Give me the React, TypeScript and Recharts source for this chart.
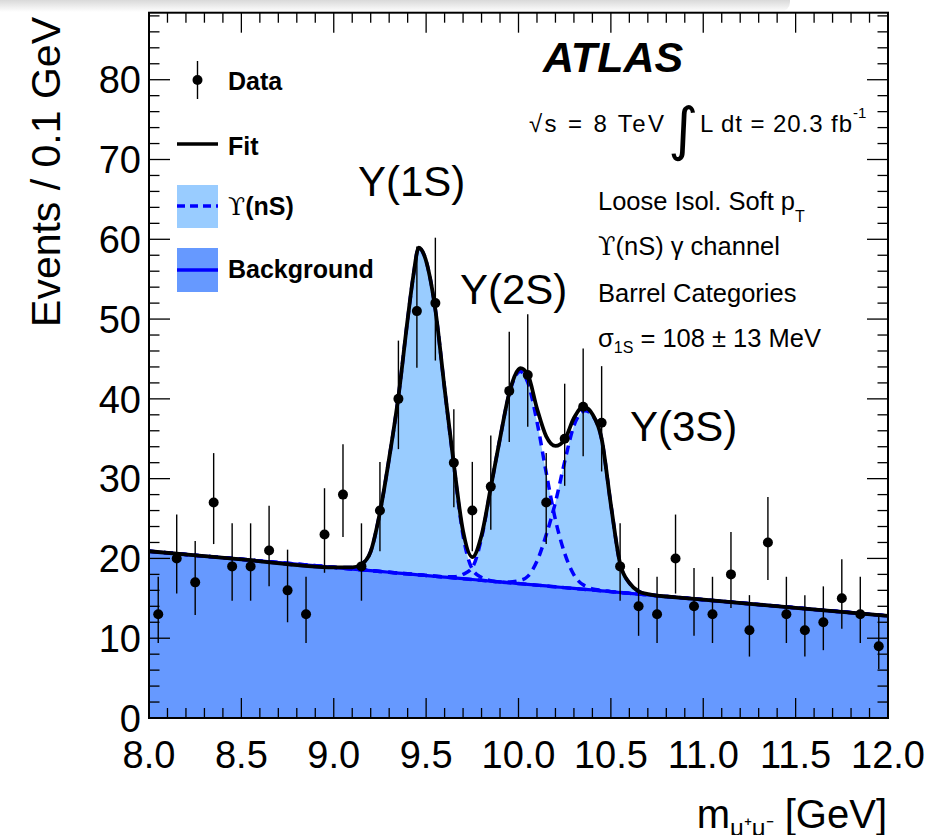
import React from "react";
import { ComposedChart, Area, Line, Scatter, ErrorBar, XAxis, YAxis } from "recharts";

// dimuon mass bins (GeV, bin centres) and event counts
const massBins = [
  8.05, 8.15, 8.25, 8.35, 8.45, 8.55, 8.65, 8.75, 8.85, 8.95,
  9.05, 9.15, 9.25, 9.35, 9.45, 9.55, 9.65, 9.75, 9.85, 9.95,
  10.05, 10.15, 10.25, 10.35, 10.45, 10.55, 10.65, 10.75, 10.85, 10.95,
  11.05, 11.15, 11.25, 11.35, 11.45, 11.55, 11.65, 11.75, 11.85, 11.95,
];
const events = [
  13, 20, 17, 27, 19, 19, 21, 16, 13, 23,
  28, 19, 26, 40, 51, 52, 32, 26, 29, 41,
  43, 27, 35, 39, 37, 19, 14, 13, 20, 14,
  13, 18, 11, 22, 13, 11, 12, 15, 13, 9,
];
const errDown = [
  3.6, 4.4, 4.1, 5.2, 4.3, 4.3, 4.5, 4.0, 3.6, 4.8,
  5.3, 4.3, 5.1, 6.3, 7.1, 7.2, 5.6, 5.1, 5.4, 6.4,
  6.5, 5.2, 5.9, 6.2, 6.1, 4.3, 3.7, 3.6, 4.4, 3.7,
  3.6, 4.2, 3.3, 4.7, 3.6, 3.3, 3.5, 3.8, 3.6, 2.9,
];
const errUp = [
  4.7, 5.5, 5.2, 6.2, 5.4, 5.4, 5.6, 5.1, 4.7, 5.8,
  6.3, 5.4, 6.1, 7.3, 8.1, 8.2, 6.7, 6.1, 6.4, 7.4,
  7.6, 6.2, 6.9, 7.3, 7.1, 5.4, 4.8, 4.7, 5.5, 4.8,
  4.7, 5.3, 4.4, 5.7, 4.7, 4.4, 4.5, 4.9, 4.7, 4.1,
];

// fit curves
const curveMass = [
  8.0, 8.5, 9.0, 9.1, 9.15, 9.2, 9.25, 9.3, 9.35, 9.4,
  9.43, 9.46, 9.49, 9.52, 9.55, 9.6, 9.65, 9.7, 9.75, 9.8,
  9.85, 9.9, 9.95, 10.0, 10.01, 10.05, 10.1, 10.15, 10.2, 10.25,
  10.3, 10.35, 10.36, 10.4, 10.45, 10.5, 10.55, 10.6, 10.65, 10.7,
  10.75, 10.8, 11.0, 11.5, 12.0,
];
const background = [
  20.9, 19.89, 18.88, 18.67, 18.57, 18.47, 18.37, 18.27, 18.17, 18.07,
  18.0, 17.94, 17.88, 17.82, 17.76, 17.66, 17.56, 17.46, 17.36, 17.26,
  17.15, 17.05, 16.95, 16.85, 16.83, 16.75, 16.65, 16.55, 16.44, 16.34,
  16.24, 16.14, 16.12, 16.04, 15.94, 15.84, 15.73, 15.63, 15.53, 15.43,
  15.33, 15.23, 14.83, 13.81, 12.8,
];
const upsilon1S = [
  20.9, 19.89, 18.88, 18.87, 19.27, 20.87, 25.77, 32.57, 40.27, 49.97,
  55.3, 58.94, 57.98, 55.32, 51.16, 41.26, 31.66, 22.86, 18.66, 17.61,
  17.2, 17.05, 16.95, 16.85, 16.83, 16.75, 16.65, 16.55, 16.44, 16.34,
  16.24, 16.14, 16.12, 16.04, 15.94, 15.84, 15.73, 15.63, 15.53, 15.43,
  15.33, 15.23, 14.83, 13.81, 12.8,
];
const upsilon2S = [
  20.9, 19.89, 18.88, 18.67, 18.57, 18.47, 18.37, 18.27, 18.17, 18.07,
  18.0, 17.94, 17.88, 17.82, 17.76, 17.71, 17.71, 18.01, 18.86, 22.56,
  28.85, 35.05, 40.65, 43.35, 43.43, 42.05, 37.15, 30.75, 24.84, 20.64,
  17.94, 16.69, 16.57, 16.19, 15.99, 15.84, 15.73, 15.63, 15.53, 15.43,
  15.33, 15.23, 14.83, 13.81, 12.8,
];
const upsilon3S = [
  20.9, 19.89, 18.88, 18.67, 18.57, 18.47, 18.37, 18.27, 18.17, 18.07,
  18.0, 17.94, 17.88, 17.82, 17.76, 17.66, 17.56, 17.46, 17.36, 17.26,
  17.15, 17.05, 17.05, 17.2, 17.25, 17.75, 19.65, 22.95, 27.04, 32.14,
  36.64, 38.44, 38.52, 37.94, 34.94, 26.74, 19.33, 16.93, 15.88, 15.53,
  15.33, 15.23, 14.83, 13.81, 12.8,
];
const totalFit = [
  20.9, 19.89, 18.88, 18.87, 19.27, 20.87, 25.77, 32.57, 40.27, 49.97,
  55.3, 58.94, 57.98, 55.32, 51.16, 41.31, 31.81, 23.41, 20.16, 22.91,
  28.9, 35.05, 40.75, 43.7, 43.85, 43.05, 38.8, 35.3, 34.1, 34.9,
  37.6, 39.0, 38.97, 38.09, 35.0, 26.74, 19.33, 16.93, 15.88, 15.53,
  15.33, 15.23, 14.83, 13.81, 12.8,
];

const xMajor = [8.0, 8.5, 9.0, 9.5, 10.0, 10.5, 11.0, 11.5, 12.0];
const yMajor = [0, 10, 20, 30, 40, 50, 60, 70, 80];
const xTicks = Array.from({ length: 41 }, (_, i) => +(8 + i * 0.1).toFixed(1));
const yTicks = Array.from({ length: 45 }, (_, i) => i * 2);

const W = 929;
const H = 835;
const PLOT_L = 149;
const PLOT_R = 888;
const PLOT_T = 12.7;
const PLOT_B = 718;
const PLOT_W = PLOT_R - PLOT_L;
const PLOT_H = PLOT_B - PLOT_T;

const FONT = "'Liberation Sans', Arial, Helvetica, sans-serif";
const SERIF = "'DejaVu Serif', 'Liberation Serif', serif";
const LIGHT = "#99ccff";
const DARK = "#6699ff";
const BLUE = "#0000ff";

const curveRows = curveMass.map((x, i) => ({
  x,
  bkg: background[i],
  s1: upsilon1S[i],
  s2: upsilon2S[i],
  s3: upsilon3S[i],
  fit: totalFit[i],
}));

const dataRows = massBins.map((x, i) => ({
  x,
  y: events[i],
  err: [errDown[i], errUp[i]],
}));

const XTick = (props: any) => {
  const { x, y, payload } = props;
  const v = payload.value;
  const major = xMajor.some(m => Math.abs(m - v) < 1e-6);
  const len = major ? 20 : 10;
  return (
    <g>
      <line x1={x} x2={x} y1={y} y2={y - len} stroke="#000" strokeWidth={1.3} />
      <line x1={x} x2={x} y1={y - PLOT_H} y2={y - PLOT_H + len} stroke="#000" strokeWidth={1.3} />
      {major && (
        <text x={x} y={y + 50} textAnchor="middle" fontSize={38} fontFamily={FONT} fill="#000">
          {v.toFixed(1)}
        </text>
      )}
    </g>
  );
};

const YTick = (props: any) => {
  const { x, y, payload } = props;
  const v = payload.value;
  const major = yMajor.includes(v);
  const len = major ? 21 : 10.5;
  return (
    <g>
      <line x1={x} x2={x + len} y1={y} y2={y} stroke="#000" strokeWidth={1.3} />
      <line x1={x + PLOT_W} x2={x + PLOT_W - len} y1={y} y2={y} stroke="#000" strokeWidth={1.3} />
      {major && (
        <text x={x - 8} y={y} dy="0.36em" textAnchor="end" fontSize={38} fontFamily={FONT} fill="#000">
          {v}
        </text>
      )}
    </g>
  );
};

const Dot = (p: any) => <circle cx={p.cx} cy={p.cy} r={5} fill="#000" />;

function Overlay() {
  const bold = { fontFamily: FONT, fontWeight: 700, fontSize: 25 };
  const txt = { fontFamily: FONT, fontSize: 25.5 };
  return (
    <svg width={W} height={H} style={{ position: "absolute", left: 0, top: 0, pointerEvents: "none" }}>
      <rect x={PLOT_L} y={PLOT_T} width={PLOT_W} height={PLOT_H} fill="none" stroke="#000" strokeWidth={2} />

      {/* legend */}
      <line x1={197.5} x2={197.5} y1={61} y2={99} stroke="#000" strokeWidth={1.4} />
      <circle cx={197.5} cy={80} r={5} fill="#000" />
      <text x={228} y={90} {...bold}>Data</text>
      <line x1={177} x2={218} y1={144} y2={144} stroke="#000" strokeWidth={3.5} />
      <text x={228} y={154.5} {...bold}>Fit</text>
      <rect x={177} y={185} width={41} height={43} fill={LIGHT} />
      <line x1={177} x2={218} y1={206} y2={206} stroke={BLUE} strokeWidth={3.5} strokeDasharray="8 5" />
      <text x={228} y={215} fontSize={25}>
        <tspan fontFamily={SERIF}>ϒ</tspan>
        <tspan fontFamily={FONT} fontWeight={700}>(nS)</tspan>
      </text>
      <rect x={177} y={248} width={41} height={44} fill={DARK} />
      <line x1={177} x2={218} y1={270} y2={270} stroke={BLUE} strokeWidth={3.5} />
      <text x={228} y={278} {...bold}>Background</text>

      {/* peak labels */}
      <text x={358} y={196} fontFamily={FONT} fontSize={42}>Y(1S)</text>
      <text x={460} y={304} fontFamily={FONT} fontSize={42}>Y(2S)</text>
      <text x={630} y={441} fontFamily={FONT} fontSize={42}>Y(3S)</text>

      {/* ATLAS block */}
      <text x={543} y={72} fontFamily={FONT} fontSize={43} fontWeight={700} fontStyle="italic">ATLAS</text>
      <text x={529} y={132} fontFamily={FONT} fontSize={24} textLength={135} lengthAdjust="spacing">√s = 8 TeV</text>
      <text x={668} y={149} fontFamily="'DejaVu Sans', sans-serif" fontSize={58}>∫</text>
      <text x={700} y={132} fontFamily={FONT} fontSize={24} textLength={152} lengthAdjust="spacing">L dt = 20.3 fb</text>
      <text x={853} y={118} fontFamily={FONT} fontSize={15}>-1</text>

      <text x={598} y={210} {...txt}>
        Loose Isol. Soft p<tspan fontSize={16} dy={12}>T</tspan>
      </text>
      <text x={598} y={255} {...txt}>
        <tspan fontFamily={SERIF}>ϒ</tspan>(nS) γ channel
      </text>
      <text x={598} y={302} {...txt}>Barrel Categories</text>
      <text x={598} y={347} {...txt}>
        σ<tspan fontSize={16} dy={6}>1S</tspan>
        <tspan dy={-6}> = 108 ± 13 MeV</tspan>
      </text>

      {/* axis titles */}
      <text x={60} y={172} transform="rotate(-90 60 172)" textAnchor="middle" fontFamily={FONT} fontSize={41}>
        Events / 0.1 GeV
      </text>
      <text x={887} y={828} textAnchor="end" fontFamily={FONT} fontSize={40}>
        m<tspan fontSize={24} dy={8}>μ⁺μ⁻</tspan>
        <tspan dy={-8}> [GeV]</tspan>
      </text>
    </svg>
  );
}

export default function App() {
  return (
    <div style={{ position: "absolute", left: 0, top: 0, width: W, height: H, background: "#fff" }}>
      <ComposedChart
        width={W}
        height={H}
        data={curveRows}
        margin={{ top: PLOT_T, right: W - PLOT_R, bottom: 0, left: 0 }}
      >
        <Area type="monotone" dataKey="s1" stroke="none" fill={LIGHT} fillOpacity={1} isAnimationActive={false} dot={false} activeDot={false} />
        <Area type="monotone" dataKey="s2" stroke="none" fill={LIGHT} fillOpacity={1} isAnimationActive={false} dot={false} activeDot={false} />
        <Area type="monotone" dataKey="s3" stroke="none" fill={LIGHT} fillOpacity={1} isAnimationActive={false} dot={false} activeDot={false} />
        <Area type="monotone" dataKey="bkg" stroke="none" fill={DARK} fillOpacity={1} isAnimationActive={false} dot={false} activeDot={false} />
        <Line type="monotone" dataKey="s1" stroke={BLUE} strokeWidth={3.5} strokeDasharray="9 6" dot={false} activeDot={false} isAnimationActive={false} />
        <Line type="monotone" dataKey="s2" stroke={BLUE} strokeWidth={3.5} strokeDasharray="9 6" dot={false} activeDot={false} isAnimationActive={false} />
        <Line type="monotone" dataKey="s3" stroke={BLUE} strokeWidth={3.5} strokeDasharray="9 6" dot={false} activeDot={false} isAnimationActive={false} />
        <Line type="monotone" dataKey="bkg" stroke={BLUE} strokeWidth={3.2} dot={false} activeDot={false} isAnimationActive={false} />
        <Line type="monotone" dataKey="fit" stroke="#000" strokeWidth={3.8} dot={false} activeDot={false} isAnimationActive={false} />
        <Scatter data={dataRows} dataKey="y" shape={Dot} isAnimationActive={false}>
          <ErrorBar dataKey="err" direction="y" width={0} stroke="#000" strokeWidth={1.4} />
        </Scatter>
        <XAxis
          dataKey="x"
          type="number"
          domain={[8, 12]}
          ticks={xTicks}
          interval={0}
          height={H - PLOT_B}
          tickSize={0}
          tickMargin={0}
          axisLine={false}
          tickLine={false}
          tick={XTick}
        />
        <YAxis
          type="number"
          domain={[0, 88.4]}
          ticks={yTicks}
          interval={0}
          width={PLOT_L}
          tickSize={0}
          tickMargin={0}
          axisLine={false}
          tickLine={false}
          tick={YTick}
        />
      </ComposedChart>
      <Overlay />
      <div
        style={{
          position: "absolute",
          left: 0,
          top: 0,
          width: 790,
          height: 12,
          borderBottomRightRadius: 10,
          background: "linear-gradient(#d9d9d9, rgba(255,255,255,0))",
        }}
      />
    </div>
  );
}
